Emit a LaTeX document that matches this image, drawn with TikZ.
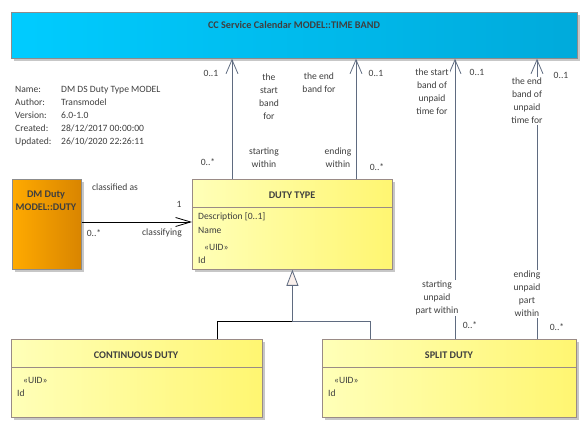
\documentclass[tikz,border=0pt]{standalone}
\usepackage{fontspec}
\setmainfont{Carlito}
\usetikzlibrary{arrows.meta,positioning,calc,shadows}
\definecolor{eatext}{HTML}{3F3F3F}
\definecolor{ealine}{HTML}{5F6B80}
\definecolor{eaborder}{HTML}{9A8B86}
\definecolor{bandL}{HTML}{00CCFF}
\definecolor{bandR}{HTML}{00AADB}
\definecolor{dutyL}{HTML}{FFAA00}
\definecolor{dutyR}{HTML}{D98500}
\definecolor{clsL}{HTML}{FFFFB8}
\definecolor{clsR}{HTML}{FFF671}
\definecolor{genfill}{HTML}{FAF0EC}
\tikzset{
  cbox/.style={draw=eaborder, line width=0.8pt, anchor=north west, inner sep=0pt,
    drop shadow={shadow xshift=3pt, shadow yshift=-3pt, fill=black!22, opacity=1}},
  ybox/.style={cbox, left color=clsL, right color=clsR},
  cname/.style={font=\fontsize{10.2}{13}\selectfont\bfseries, text=eatext},
  attr/.style={anchor=west, inner sep=0pt, text=eatext},
  lbl/.style={align=center, text=eatext, fill=white, inner sep=1pt},
  mult/.style={text=eatext, inner sep=1pt},
  nav/.style={draw=ealine, line width=0.8pt, -{Straight Barb[length=14pt,width=12pt]}},
  gen/.style={draw=ealine, line width=0.8pt, -{Triangle[length=16pt,width=12pt,fill=genfill]}},
}

\begin{document}
\begin{tikzpicture}[x=1pt, y=-1pt, font=\fontsize{9.6}{13}\selectfont]
  \useasboundingbox (0,0) rectangle (587,427);

  % classes
  \node[cbox, draw=black!45, left color=bandL, right color=bandR,
    minimum width=566pt, minimum height=46pt] (band) at (11,12) {};
  \node[cname] (bandname) at (294,25) {CC Service Calendar MODEL::TIME BAND};

  \node[cbox, draw=black!45, left color=dutyL, right color=dutyR,
    minimum width=69pt, minimum height=90pt] (duty) at (12,179) {};
  \node[cname, align=center] (dutyname) at (46,201) {DM Duty\\MODEL::DUTY};

  \node[ybox, minimum width=200pt, minimum height=90pt] (dtype) at (192,179) {};
  \node[cname] (dtypename) at (292,195) {DUTY TYPE};
  \draw[eaborder, line width=0.8pt] (dtype.west |- 0,207) -- (dtype.east |- 0,207);
  \node[attr] (dtdesc) at (198,217) {Description [0..1]};
  \node[attr] (dtname) at (198,230) {Name};
  \node[attr] (dtuid) at (204,247) {«UID»};
  \node[attr] (dtid) at (198,260) {Id};

  \node[ybox, minimum width=251pt, minimum height=78pt] (cont) at (11,339) {};
  \node[cname] (contname) at (136,355) {CONTINUOUS DUTY};
  \draw[eaborder, line width=0.8pt] (cont.west |- 0,367) -- (cont.east |- 0,367);
  \node[attr] (contuid) at (23,380) {«UID»};
  \node[attr] (contid) at (17,393) {Id};

  \node[ybox, minimum width=254pt, minimum height=78pt] (split) at (322,339) {};
  \node[cname] (splitname) at (449,355) {SPLIT DUTY};
  \draw[eaborder, line width=0.8pt] (split.west |- 0,367) -- (split.east |- 0,367);
  \node[attr] (splituid) at (334,380) {«UID»};
  \node[attr] (splitid) at (328,393) {Id};

  % model info
  \node[attr, align=left] (infokeys) at (15,116)
    {Name:\\Author:\\Version:\\Created:\\Updated:};
  \node[attr, align=left] (infovals) at (61,116)
    {DM DS Duty Type MODEL\\Transmodel\\6.0-1.0\\28/12/2017 00:00:00\\26/10/2020 22:26:11};

  % associations
  \draw[nav] ([xshift=40pt]dtype.north west) -- ([xshift=40pt]dtype.north west |- band.south);
  \draw[nav] ([xshift=164pt]dtype.north west) -- ([xshift=164pt]dtype.north west |- band.south);
  \draw[nav] ([xshift=133pt]split.north west) -- ([xshift=133pt]split.north west |- band.south);
  \draw[nav] ([xshift=215pt]split.north west) -- ([xshift=215pt]split.north west |- band.south);
  \draw[black, line width=0.8pt, -{Straight Barb[length=15pt,width=9pt]}]
    (duty.east |- 0,222) -- (dtype.west |- 0,222);

  % generalization
  \coordinate (genj) at (dtype.south |- 0,321);
  \draw[black, line width=0.8pt] ([xshift=206pt]cont.north west) |- (genj);
  \draw[gen] ([xshift=48pt]split.north west) |- (genj) -- (dtype.south);

  % role names and multiplicities
  \node[mult] (m1) at (211,73) {0..1};
  \node[lbl] (r1) at (269,97) {the\\start\\band\\for};
  \node[lbl] (r2) at (319,83) {the end\\band for};
  \node[mult] (m2) at (376,73) {0..1};
  \node[lbl] (r3) at (264,158) {starting\\within};
  \node[lbl] (r4) at (338,158) {ending\\within};
  \node[mult] (m3) at (208,162) {0..*};
  \node[mult] (m4) at (377,167) {0..*};
  \node[lbl] (r5) at (432,92) {the start\\band of\\unpaid\\time for};
  \node[mult] (m5) at (477,72) {0..1};
  \node[lbl] (r6) at (527,101) {the end\\band of\\unpaid\\time for};
  \node[mult] (m6) at (561,75) {0..1};
  \node[lbl] (r7) at (437,298) {starting\\unpaid\\part within};
  \node[lbl] (r8) at (527,294) {ending\\unpaid\\part\\within};
  \node[mult] (m7) at (470,325) {0..*};
  \node[mult] (m8) at (557,327) {0..*};
  \node[lbl] (r9) at (115,187) {classified as};
  \node[mult] (m9) at (179,204) {1};
  \node[mult] (m10) at (94,233) {0..*};
  \node[lbl] (r10) at (162,233) {classifying};
\end{tikzpicture}
\end{document}
